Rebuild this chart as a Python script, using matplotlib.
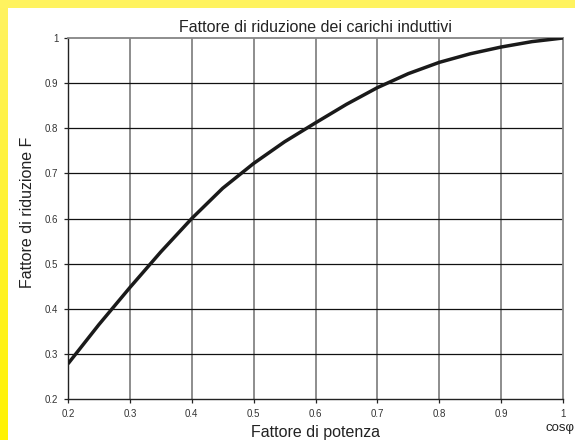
import numpy as np
import matplotlib
matplotlib.use('Agg')
import matplotlib.pyplot as plt
from matplotlib.patches import Rectangle
from matplotlib.colors import LinearSegmentedColormap

plt.rcParams['font.family'] = ['Liberation Sans', 'DejaVu Sans']

# power factor (cos phi) and reduction factor F
cosphi = [0.20, 0.25, 0.30, 0.35, 0.40, 0.45, 0.50, 0.55, 0.60,
          0.65, 0.70, 0.75, 0.80, 0.85, 0.90, 0.95, 1.00]
fattore = [0.278, 0.365, 0.447, 0.526, 0.600, 0.667, 0.722, 0.770, 0.812,
           0.853, 0.890, 0.921, 0.946, 0.965, 0.980, 0.992, 1.000]

xticks = [0.2, 0.3, 0.4, 0.5, 0.6, 0.7, 0.8, 0.9, 1.0]
xlabels = ['0.2', '0.3', '0.4', '0.5', '0.6', '0.7', '0.8', '0.9', '1']
yticks = [0.2, 0.3, 0.4, 0.5, 0.6, 0.7, 0.8, 0.9, 1.0]
ylabels = ['0.2', '0.3', '0.4', '0.5', '0.6', '0.7', '0.8', '0.9', '1']

W, H = 575, 440
fig = plt.figure(figsize=(W/100, H/100), dpi=100)
fig.patch.set_facecolor('white')

# yellow frame (top strip + left gradient strip)
fig.patches.append(Rectangle((0, 1 - 8/H), 1, 8/H, transform=fig.transFigure,
                             facecolor='#fff35f', edgecolor='none', zorder=0))
gax = fig.add_axes([0, 0, 8/W, 1 - 8/H], zorder=0)
grad = np.linspace(0, 1, 256).reshape(-1, 1)
cm = LinearSegmentedColormap.from_list('yel', ['#fff200', '#fff35f'])
gax.imshow(grad, aspect='auto', cmap=cm, origin='lower')
gax.axis('off')

left, right, top, bottom = 68, 563, 38, 399
ax = fig.add_axes([left/W, 1 - bottom/H, (right-left)/W, (bottom-top)/H])

ax.plot(cosphi, fattore, color='#1a1a1a', lw=2.5, solid_capstyle='butt',
        solid_joinstyle='round', zorder=5)

ax.set_xlim(0.2, 1.0)
ax.set_ylim(0.2, 1.0)
ax.set_xticks(xticks)
ax.set_xticklabels(xlabels)
ax.set_yticks(yticks)
ax.set_yticklabels(ylabels)

for v in xticks[1:-1]:
    ax.axvline(v, color='#858585', lw=1.3, zorder=1)
for v in yticks[1:-1]:
    ax.axhline(v, color='#111111', lw=0.9, zorder=2)

for s in ['left', 'bottom']:
    ax.spines[s].set_color('#222222')
    ax.spines[s].set_linewidth(1.0)
for s in ['top', 'right']:
    ax.spines[s].set_color('#858585')
    ax.spines[s].set_linewidth(1.3)

ax.tick_params(axis='both', labelsize=7, colors='#222222', labelcolor='#333333',
               length=3, width=0.9, pad=4)

fig.text((left + right) / 2 / W, 1 - 27/H, 'Fattore di riduzione dei carichi induttivi',
         ha='center', va='center', fontsize=11.5, color='#222222')
fig.text(28/W, 1 - 212/H, 'Fattore di riduzione F', rotation=90,
         ha='center', va='center', fontsize=11.5, color='#222222')
fig.text((left + right) / 2 / W, 1 - 432/H, 'Fattore di potenza',
         ha='center', va='center', fontsize=11.5, color='#222222')
fig.text(545/W, 1 - 428/H, 'cosφ', ha='left', va='center', fontsize=9.5,
         color='#222222')

fig.savefig('out.png', dpi=100)
